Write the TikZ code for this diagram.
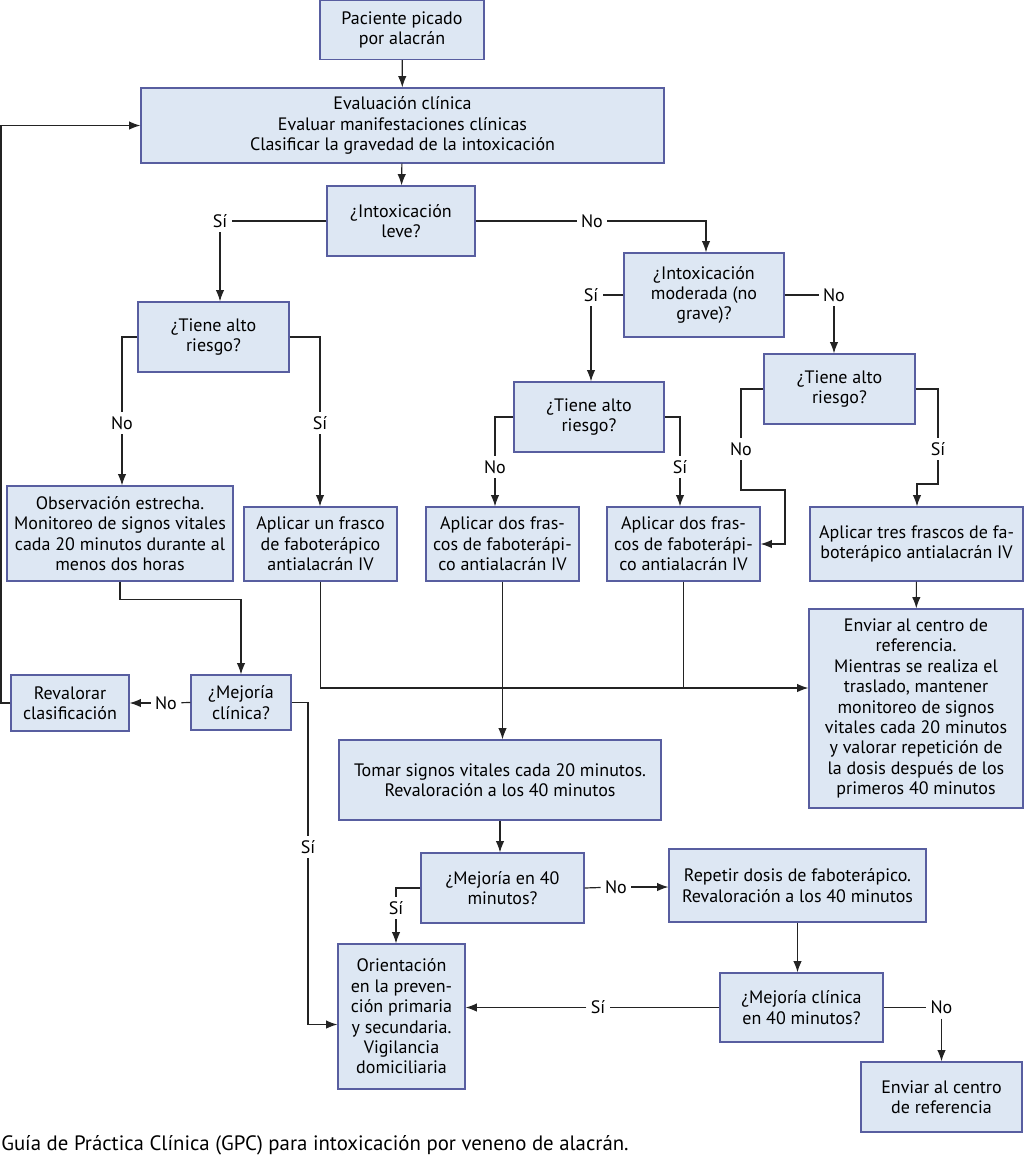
\documentclass[tikz,border=0pt]{standalone}
\usepackage{fontspec}
\setmainfont{PT Sans}
\usetikzlibrary{arrows.meta,calc}

\definecolor{cajafondo}{RGB}{221,231,243}
\definecolor{cajaborde}{RGB}{88,94,160}
\definecolor{linea}{RGB}{35,35,35}

\begin{document}
\begin{tikzpicture}[>={Latex[length=8pt,width=6pt]},x=0.025cm,y=-0.025cm,
  caja/.style={draw=cajaborde,fill=cajafondo,line width=0.85pt,align=center,
    inner sep=1pt,font=\fontsize{12.8}{14.5}\selectfont},
  tam/.style 2 args={minimum width=#1*\px,minimum height=#2*\px},
  etq/.style={inner sep=3pt,font=\fontsize{12.8}{14}\selectfont},
  con/.style={draw=linea,line width=0.85pt}]
  \def\px{0.025cm}   % 1 px de la imagen
  \useasboundingbox (0,0) rectangle (1024,1166);

  % cajas
  \node[caja,tam={164}{59}]  (inicio)   at (402,30)     {Paciente picado\\por alacrán};
  \node[caja,tam={523}{75}]  (eval)     at (402.5,125.5){Evaluación clínica\\Evaluar manifestaciones clínicas\\Clasificar la gravedad de la intoxicación};
  \node[caja,tam={148}{70}]  (leve)     at (401,221)    {¿Intoxicación\\leve?};
  \node[caja,tam={160}{84}]  (moderada) at (704,295)    {¿Intoxicación\\moderada (no\\grave)?};
  \node[caja,tam={151}{70}]  (riesgoA)  at (213.5,337)  {¿Tiene alto\\riesgo?};
  \node[caja,tam={150}{70}]  (riesgoB)  at (589,417)    {¿Tiene alto\\riesgo?};
  \node[caja,tam={151}{70}]  (riesgoC)  at (839.5,389)  {¿Tiene alto\\riesgo?};
  \node[caja,tam={226}{95}]  (observa)  at (120,533.5)  {Observación estrecha.\\Monitoreo de signos vitales\\cada 20 minutos durante al\\menos dos horas};
  \node[caja,tam={153}{74}]  (unfrasco) at (320.5,544)  {Aplicar un frasco\\de faboterápico\\antialacrán IV};
  \node[caja,tam={153}{74}]  (dosA)     at (502.5,544)  {Aplicar dos fras-\\cos de faboterápi-\\co antialacrán IV};
  \node[caja,tam={153}{74}]  (dosB)     at (683.5,544)  {Aplicar dos fras-\\cos de faboterápi-\\co antialacrán IV};
  \node[caja,tam={213}{74}]  (tres)     at (916.5,544)  {Aplicar tres frascos de fa-\\boterápico antialacrán IV};
  \node[caja,tam={214}{199}] (enviarA)  at (916,708.5)  {Enviar al centro de\\referencia.\\Mientras se realiza el\\traslado, mantener\\monitoreo de signos\\vitales cada 20 minutos\\y valorar repetición de\\la dosis después de los\\primeros 40 minutos};
  \node[caja,tam={100}{55}]  (mejoraA)  at (241,702.5)  {¿Mejoría\\clínica?};
  \node[caja,tam={118}{56}]  (revalora) at (70,703)     {Revalorar\\clasificación};
  \node[caja,tam={322}{80}]  (tomar)    at (500,780)    {Tomar signos vitales cada 20 minutos.\\Revaloración a los 40 minutos};
  \node[caja,tam={163}{70}]  (mejoraB)  at (502.5,888)  {¿Mejoría en 40\\minutos?};
  \node[caja,tam={257}{73}]  (repetir)  at (797.5,885.5){Repetir dosis de faboterápico.\\Revaloración a los 40 minutos};
  \node[caja,tam={163}{69}]  (mejoraC)  at (801.5,1007.5){¿Mejoría clínica\\en 40 minutos?};
  \node[caja,tam={127}{145}] (orienta)  at (401.5,1016.5){Orientación\\en la preven-\\ción primaria\\y secundaria.\\Vigilancia\\domiciliaria};
  \node[caja,tam={161}{70}]  (enviarB)  at (941.5,1097) {Enviar al centro\\de referencia};

  % etiquetas Sí / No
  \node[etq] (siA) at (220,221)  {Sí};
  \node[etq] (noA) at (592,221)  {No};
  \node[etq] (siB) at (591,295)  {Sí};
  \node[etq] (noB) at (834,295)  {No};
  \node[etq] (noC) at (122,423)  {No};
  \node[etq] (siC) at (320,423)  {Sí};
  \node[etq] (noD) at (495,467)  {No};
  \node[etq] (siD) at (680,467)  {Sí};
  \node[etq] (noE) at (741,449)  {No};
  \node[etq] (siE) at (938,449)  {Sí};
  \node[etq] (noF) at (166,703)  {No};
  \node[etq] (siF) at (308,847)  {Sí};
  \node[etq] (siG) at (396,908)  {Sí};
  \node[etq] (noG) at (616,887)  {No};
  \node[etq] (siH) at (598,1007.5) {Sí};
  \node[etq] (noH) at (941.5,1007.5) {No};

  \coordinate (codoE) at (785,490);
  \coordinate (codoS) at (917,484);
  \coordinate (bus)   at (0,688);

  % conexiones
  \draw[con,->] (inicio) -- (eval);
  \draw[con,->] (eval) -- (leve);
  \draw[con] (leve.west) -- (siA);
  \draw[con,->] (siA) -- (siA |- riesgoA.north);
  \draw[con] (leve.east) -- (noA);
  \draw[con,->] (noA) -| ([xshift=2*\px]moderada.north);
  \draw[con] (moderada.west) -- (siB);
  \draw[con,->] (siB) -- (siB |- riesgoB.north);
  \draw[con] (moderada.east) -- (noB);
  \draw[con,->] (noB) -- (noB |- riesgoC.north);
  \draw[con] (riesgoA.west) -| (noC);
  \draw[con,->] (noC) -- (noC |- observa.north);
  \draw[con] (riesgoA.east) -| (siC);
  \draw[con,->] (siC) -- (siC |- unfrasco.north);
  \draw[con] (riesgoB.west) -| (noD);
  \draw[con,->] (noD) -- (noD |- dosA.north);
  \draw[con] (riesgoB.east) -| (siD);
  \draw[con,->] (siD) -- (siD |- dosB.north);
  \draw[con] (riesgoC.west) -| (noE);
  \draw[con,->] (noE) |- (codoE) |- (dosB.east);
  \draw[con] (riesgoC.east) -| (siE);
  \draw[con,->] (siE) |- (codoS) -- (codoS |- tres.north);
  \draw[con,->] (observa.south) -- ++(0,18) -| (mejoraA.north);
  \draw[con] (mejoraA.west) -- (noF);
  \draw[con,->] (noF) -- (revalora.east);
  \draw[con,->] (revalora.west) -- ++(-9.5,0) |- (eval.west);
  \draw[con] (mejoraA.east) -| (siF);
  \draw[con,->] (siF) |- ([yshift=-8*\px]orienta.west);
  \draw[con,->] (unfrasco.south) |- (bus -| enviarA.west);
  \draw[con] (dosB.south) -- (dosB.south |- bus);
  \draw[con,->] (dosA.south) -- (dosA.south |- tomar.north);
  \draw[con,->] (tres) -- (enviarA);
  \draw[con,->] (tomar.south) -- (tomar.south |- mejoraB.north);
  \draw[con] (mejoraB.east) -- (noG);
  \draw[con,->] (noG) -- (noG -| repetir.west);
  \draw[con] (mejoraB.west) -| (siG);
  \draw[con,->] (siG) -- (siG |- orienta.north);
  \draw[con,->] (repetir.south) -- (repetir.south |- mejoraC.north);
  \draw[con] (mejoraC.west) -- (siH);
  \draw[con,->] (siH) -- (siH -| orienta.east);
  \draw[con] (mejoraC.east) -- (noH);
  \draw[con,->] (noH) -- (enviarB);

  % pie
  \node[anchor=base west,inner sep=0pt,font=\fontsize{14.8}{16}\selectfont] (pie) at (1,1150)
    {Guía de Práctica Clínica (GPC) para intoxicación por veneno de alacrán.};
\end{tikzpicture}
\end{document}
